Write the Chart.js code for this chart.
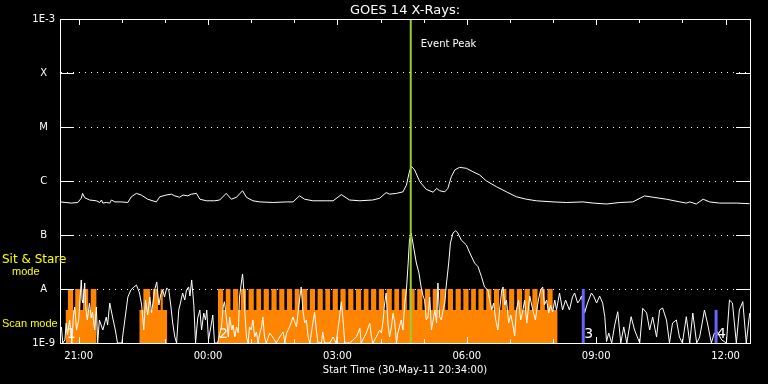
<!DOCTYPE html>
<html>
<head>
<meta charset="utf-8">
<script src="https://cdn.jsdelivr.net/npm/chart.js@4/dist/chart.umd.min.js"></script>
<style>
    html, body { margin: 0; padding: 0; background: #000; }
</style>
</head>
<body>
<canvas id="goes" width="768" height="384"></canvas>
<script>
// time is in hours from 00:00 on 31-May-11 (negative = 30-May)
const startHour = -3.4333; // 20:34
const endHour = 12.5667;

const hourTicks = [-3, -2, -1, 0, 1, 2, 3, 4, 5, 6, 7, 8, 9, 10, 11, 12];
const labelHours = [-3, 0, 3, 6, 9, 12];
const yTickValues = [1e-9, 1e-8, 1e-7, 1e-6, 1e-5, 1e-4, 1e-3];
const yTickLabels = ['1E-9', 'A', 'B', 'C', 'M', 'X', '1E-3'];

// GOES 1-8 A channel (W/m2)
const longTimes = [
    -3.43, -3.17, -3.02, -2.94, -2.91, -2.86, -2.75, -2.59, -2.51, -2.47,
    -2.44, -2.36, -2.28, -2.24, -2.16, -2.01, -1.86, -1.78, -1.66, -1.55,
    -1.40, -1.20, -1.12, -0.97, -0.85, -0.77, -0.66, -0.58, -0.47, -0.39,
    -0.27, -0.19, -0.04, 0.15, 0.27, 0.42, 0.54, 0.66, 0.80, 0.89,
    1.04, 1.20, 1.51, 1.82, 1.97, 2.12, 2.24, 2.43, 2.74, 2.90,
    3.09, 3.28, 3.52, 3.82, 3.98, 4.13, 4.21, 4.37, 4.52, 4.60,
    4.66, 4.71, 4.79, 4.91, 5.06, 5.22, 5.30, 5.37, 5.49, 5.56,
    5.64, 5.72, 5.83, 5.99, 6.14, 6.30, 6.45, 6.69, 6.92, 7.15,
    7.38, 7.61, 8.00, 8.31, 8.69, 8.93, 9.24, 9.55, 9.85, 10.12,
    10.32, 10.63, 10.94, 11.09, 11.17, 11.32, 11.48, 11.63, 11.86, 12.25,
    12.56
];
const longFlux = [
    4.1e-7, 3.9e-7, 4.0e-7, 4.8e-7, 5.9e-7, 4.9e-7, 4.45e-7, 4.3e-7, 4.0e-7, 4.45e-7,
    3.9e-7, 4.0e-7, 3.9e-7, 4.45e-7, 4.1e-7, 4.1e-7, 4.0e-7, 5.1e-7, 5.9e-7, 5.5e-7,
    4.6e-7, 4.1e-7, 5.1e-7, 5.5e-7, 5.7e-7, 5.3e-7, 5.0e-7, 5.5e-7, 5.3e-7, 5.7e-7,
    5.9e-7, 4.6e-7, 4.3e-7, 4.3e-7, 4.45e-7, 5.9e-7, 4.6e-7, 5.0e-7, 6.6e-7, 5.0e-7,
    4.3e-7, 4.1e-7, 4.0e-7, 4.1e-7, 4.1e-7, 5.3e-7, 4.6e-7, 4.3e-7, 4.3e-7, 4.3e-7,
    5.6e-7, 4.45e-7, 4.3e-7, 4.45e-7, 4.8e-7, 6.1e-7, 5.7e-7, 5.9e-7, 6.3e-7, 8.4e-7,
    1.39e-6, 1.89e-6, 1.6e-6, 9.7e-7, 7.0e-7, 6.2e-7, 7.3e-7, 6.6e-7, 6.3e-7, 7.3e-7,
    1.2e-6, 1.6e-6, 1.79e-6, 1.72e-6, 1.49e-6, 1.29e-6, 1.01e-6, 7.8e-7, 6.3e-7, 5.1e-7,
    4.6e-7, 4.3e-7, 4.1e-7, 4.0e-7, 4.1e-7, 3.9e-7, 3.75e-7, 4.0e-7, 4.1e-7, 5.3e-7,
    5.0e-7, 4.6e-7, 4.1e-7, 3.9e-7, 4.1e-7, 3.75e-7, 4.6e-7, 4.1e-7, 3.9e-7, 3.9e-7,
    3.8e-7
];

// GOES 0.5-4 A channel, in units of 1e-9 W/m2
const shortTimes = [
    -3.44, -3.40, -3.37, -3.32, -3.29, -3.26, -3.21, -3.16, -3.12, -3.09,
    -3.05, -3.00, -2.98, -2.94, -2.92, -2.90, -2.86, -2.84, -2.80, -2.77,
    -2.75, -2.71, -2.68, -2.63, -2.59, -2.56, -2.52, -2.44, -2.36, -2.33,
    -2.28, -2.21, -2.15, -2.10, -2.00, -1.93, -1.86, -1.79, -1.72, -1.66,
    -1.59, -1.54, -1.49, -1.45, -1.40, -1.35, -1.31, -1.24, -1.19, -1.14,
    -1.10, -1.05, -1.01, -0.96, -0.91, -0.86, -0.82, -0.77, -0.73, -0.68,
    -0.64, -0.59, -0.54, -0.50, -0.45, -0.42, -0.38, -0.33, -0.29, -0.24,
    -0.19, -0.15, -0.10, -0.06, -0.03, 0.01, 0.06, 0.11, 0.15, 0.22,
    0.31, 0.35, 0.38, 0.43, 0.47, 0.50, 0.55, 0.58, 0.62, 0.66,
    0.70, 0.73, 0.77, 0.80, 0.83, 0.85, 0.89, 0.93, 0.96, 1.00,
    1.04, 1.08, 1.12, 1.16, 1.20, 1.24, 1.27, 1.31, 1.35, 1.43,
    1.50, 1.58, 1.66, 1.74, 1.78, 1.82, 1.89, 1.97, 2.05, 2.12,
    2.16, 2.20, 2.24, 2.28, 2.32, 2.36, 2.43, 2.47, 2.51, 2.55,
    2.63, 2.66, 2.70, 2.82, 2.90, 2.97, 3.05, 3.09, 3.13, 3.17,
    3.28, 3.44, 3.52, 3.55, 3.67, 3.75, 3.79, 3.82, 3.90, 3.98,
    4.02, 4.06, 4.09, 4.13, 4.17, 4.21, 4.25, 4.29, 4.33, 4.37,
    4.40, 4.48, 4.52, 4.56, 4.60, 4.64, 4.67, 4.71, 4.75, 4.83,
    4.89, 4.94, 4.98, 5.02, 5.06, 5.10, 5.14, 5.18, 5.22, 5.26,
    5.30, 5.33, 5.37, 5.41, 5.45, 5.49, 5.52, 5.58, 5.62, 5.68,
    5.74, 5.79, 5.87, 5.99, 6.07, 6.18, 6.26, 6.34, 6.41, 6.49,
    6.53, 6.58, 6.62, 6.67, 6.72, 6.76, 6.81, 6.84, 6.88, 6.92,
    6.97, 7.02, 7.06, 7.11, 7.15, 7.20, 7.25, 7.29, 7.34, 7.39,
    7.46, 7.53, 7.59, 7.66, 7.71, 7.76, 7.80, 7.85, 7.90, 7.94,
    7.99, 8.04, 8.08, 8.15, 8.22, 8.29, 8.38, 8.45, 8.50, 8.57,
    8.62, 8.66, 8.73, 8.80, 8.89, 8.94, 9.01, 9.08, 9.15, 9.20,
    9.24, 9.29, 9.36, 9.43, 9.50, 9.57, 9.64, 9.71, 9.81, 9.89,
    10.01, 10.08, 10.17, 10.24, 10.31, 10.40, 10.47, 10.54, 10.63, 10.70,
    10.77, 10.86, 10.93, 11.00, 11.09, 11.17, 11.24, 11.33, 11.40, 11.47,
    11.51, 11.58, 11.67, 11.74, 11.81, 11.91, 12.02, 12.09, 12.16, 12.25,
    12.32, 12.40, 12.48, 12.56
];
const shortFluxNano = [
    1.74, 1.98, 1.0, 1.14, 2.34, 1.41, 2.67, 1.0, 3.3, 4.64,
    1.74, 2.67, 4.64, 14.7, 6.25, 5.5, 12.9, 5.05, 2.67, 4.08,
    5.5, 2.9, 3.75, 1.74, 4.64, 1.0, 2.67, 1.74, 3.03, 2.15,
    5.5, 2.9, 1.74, 1.0, 1.0, 2.67, 7.1, 9.58, 10.9, 11.8,
    8.43, 5.05, 1.74, 6.25, 3.3, 7.1, 3.59, 9.58, 13.5, 5.05,
    7.7, 9.58, 7.1, 10.4, 9.58, 4.64, 2.34, 1.29, 1.0, 4.08,
    5.5, 8.43, 6.25, 9.58, 10.9, 7.4, 14.7, 5.05, 1.0, 2.9,
    4.08, 1.74, 3.59, 2.67, 4.08, 1.14, 1.9, 3.3, 1.0, 1.0,
    1.98, 4.64, 5.8, 2.67, 1.29, 3.03, 1.74, 2.15, 1.29, 1.98,
    1.53, 7.1, 12.9, 19.0, 9.58, 4.08, 1.29, 1.0, 1.98, 1.74,
    2.67, 1.29, 1.6, 1.0, 1.53, 1.98, 3.03, 1.29, 1.0, 1.53,
    1.29, 1.0, 1.29, 1.6, 1.0, 1.53, 1.98, 3.03, 1.98, 6.25,
    10.9, 4.08, 2.34, 2.67, 1.29, 1.0, 2.34, 3.75, 1.74, 1.0,
    1.0, 1.6, 1.0, 1.0, 1.29, 1.0, 3.03, 5.8, 2.67, 1.0,
    1.0, 1.29, 1.87, 1.0, 1.53, 2.32, 1.29, 1.0, 1.29, 1.74,
    1.53, 2.67, 5.05, 8.43, 2.34, 1.29, 1.98, 3.55, 2.34, 1.0,
    1.53, 2.67, 1.74, 5.5, 9.58, 30.3, 80.8, 109, 71.0, 30.3,
    19.8, 10.9, 7.7, 6.25, 2.67, 3.03, 7.1, 1.74, 2.67, 4.08,
    2.34, 12.9, 3.03, 2.67, 4.08, 5.5, 10.9, 30.3, 71.0, 109,
    120, 109, 80.8, 65.3, 46.4, 30.3, 25.9, 16.9, 10.9, 9.58,
    6.25, 4.08, 5.5, 2.67, 1.74, 4.08, 9.58, 10.9, 5.05, 6.25,
    2.34, 3.3, 2.34, 1.35, 4.08, 6.25, 2.67, 3.59, 6.25, 2.34,
    7.4, 4.08, 2.67, 6.25, 9.58, 10.9, 5.05, 6.25, 3.59, 5.05,
    3.75, 6.25, 4.08, 8.43, 4.08, 6.25, 4.08, 7.1, 8.43, 5.5,
    6.25, 7.4, 3.59, 5.5, 8.43, 7.4, 5.5, 7.4, 5.5, 3.07,
    1.06, 1.53, 1.0, 2.15, 3.8, 1.0, 1.98, 1.0, 3.07, 1.74,
    1.0, 4.39, 3.59, 1.74, 3.03, 1.29, 4.08, 4.45, 2.67, 1.0,
    2.34, 2.67, 1.29, 1.0, 3.07, 1.0, 3.59, 1.0, 1.29, 2.67,
    4.08, 2.34, 1.0, 1.53, 1.6, 1.14, 1.0, 6.25, 5.5, 1.0,
    4.08, 5.82, 1.0, 3.59
];

// observing mode: 0 none, 1 scan, 2 sit & stare (value holds until next time)
const modeTimes = [
    -3.30, -3.25, -3.13, -3.08, -2.96, -2.90, -2.78, -2.72, -2.59,
    -1.59, -1.50, -1.34, -1.28, -1.16, -1.10, -1.05, -0.95,
    0.23,
    0.35, 0.41, 0.52, 0.58, 0.70, 0.76, 0.88, 0.94, 1.06, 1.12,
    1.23, 1.29, 1.41, 1.47, 1.59, 1.65, 1.77, 1.83, 1.95, 2.01,
    2.12, 2.18, 2.30, 2.36, 2.48, 2.54, 2.66, 2.72, 2.83, 2.89,
    3.01, 3.07, 3.19, 3.25, 3.37, 3.43, 3.55, 3.61, 3.72, 3.78,
    3.90, 3.96, 4.08, 4.14, 4.26, 4.32, 4.43, 4.49, 4.61, 4.67,
    4.79, 4.85, 4.97, 5.03, 5.15, 5.21, 5.32, 5.38, 5.50, 5.56,
    5.68, 5.74, 5.86, 5.92, 6.04, 6.10, 6.21, 6.27, 6.39, 6.45,
    6.57, 6.63, 6.75, 6.81, 6.92, 6.98, 7.10, 7.16, 7.28, 7.34,
    7.46, 7.52, 7.64, 7.70, 7.81, 7.87,
    7.99, 8.10
];
const modeCodes = [
    1, 2, 1, 2, 1, 2, 1, 2, 0,
    1, 2, 1, 2, 1, 2, 1, 0,
    2,
    1, 2, 1, 2, 1, 2, 1, 2, 1, 2,
    1, 2, 1, 2, 1, 2, 1, 2, 1, 2,
    1, 2, 1, 2, 1, 2, 1, 2, 1, 2,
    1, 2, 1, 2, 1, 2, 1, 2, 1, 2,
    1, 2, 1, 2, 1, 2, 1, 2, 1, 2,
    1, 2, 1, 2, 1, 2, 1, 2, 1, 2,
    1, 2, 1, 2, 1, 2, 1, 2, 1, 2,
    1, 2, 1, 2, 1, 2, 1, 2, 1, 2,
    1, 2, 1, 2, 1, 2,
    1, 0
];

const eventPeakHour = 4.70;
const obsNumbers = ['1', '2', '3', '4'];
const obsHours = [-3.30, 0.23, 8.70, 11.78];
const blueHours = [8.70, 11.78];
const blueTops = [1e-8, 4.1e-9];

const modeHeight = [1e-10, 4.1e-9, 1e-8];
const FONT = 'DejaVu Sans';

const hourLabel = (h) => {
    const hh = ((h % 24) + 24) % 24;
    return String(hh).padStart(2, '0') + ':00';
}

let modePoints = [{x: startHour, y: modeHeight[0]}];
for (let i = 0; i < modeTimes.length; i++) {
    modePoints.push({x: modeTimes[i], y: modeHeight[modeCodes[i]]});
}
modePoints.push({x: endHour, y: modeHeight[0]});

const lineStyle = {pointRadius: 0, tension: 0, fill: false};

const datasets = [
    {
        label: 'mode', data: modePoints, stepped: true, fill: 'start',
        backgroundColor: '#ff8500', borderWidth: 0, pointRadius: 0, order: 3
    },
    {
        ...lineStyle, label: '0.5-4 A',
        data: shortTimes.map((t, i) => ({x: t, y: shortFluxNano[i] * 1e-9})),
        borderColor: '#ffffff', borderWidth: 1, order: 2
    },
    {
        ...lineStyle, label: '1-8 A',
        data: longTimes.map((t, i) => ({x: t, y: longFlux[i]})),
        borderColor: '#ffffff', borderWidth: 1, order: 2
    },
    {
        ...lineStyle, label: 'Event Peak',
        data: [{x: eventPeakHour, y: 1e-9}, {x: eventPeakHour, y: 1e-3}],
        borderColor: '#9acd32', borderWidth: 2, order: 0
    }
];
for (let i = 0; i < blueHours.length; i++) {
    datasets.push({
        ...lineStyle, label: 'obs' + (i + 3),
        data: [{x: blueHours[i], y: 1e-9}, {x: blueHours[i], y: blueTops[i]}],
        borderColor: '#6464ff', borderWidth: 3, order: 1
    });
}

const decorations = {
    id: 'decorations',
    afterDraw(chart) {
        const ctx = chart.ctx;
        const {left, right, top, bottom} = chart.chartArea;
        const xs = chart.scales.x, ys = chart.scales.y;
        ctx.save();
        ctx.strokeStyle = '#ffffff';
        ctx.lineWidth = 1;
        ctx.beginPath();
        ctx.moveTo(left, top + 0.5); ctx.lineTo(right + 0.5, top + 0.5);
        ctx.moveTo(right + 0.5, top); ctx.lineTo(right + 0.5, bottom + 0.5);
        ctx.moveTo(left, bottom + 0.5); ctx.lineTo(right + 0.5, bottom + 0.5);
        // solid stubs at each class level
        for (let i = 1; i < yTickValues.length - 1; i++) {
            const y = Math.round(ys.getPixelForValue(yTickValues[i])) + 0.5;
            ctx.moveTo(left, y); ctx.lineTo(left + 14, y);
            ctx.moveTo(right - 14, y); ctx.lineTo(right, y);
        }
        // inward time ticks top and bottom
        for (const h of hourTicks) {
            const x = Math.round(xs.getPixelForValue(h)) + 0.5;
            const len = labelHours.includes(h) ? 6 : 4;
            ctx.moveTo(x, top); ctx.lineTo(x, top + len);
            ctx.moveTo(x, bottom); ctx.lineTo(x, bottom - len);
        }
        ctx.stroke();

        ctx.fillStyle = '#ffffff';
        ctx.textBaseline = 'alphabetic';
        ctx.textAlign = 'center';
        ctx.font = '13px ' + FONT;
        ctx.fillText('GOES 14 X-Rays:', (left + right) / 2, 14);
        ctx.font = '10px ' + FONT;
        ctx.fillText('Start Time (30-May-11 20:34:00)', (left + right) / 2, 373);

        ctx.textAlign = 'left';
        ctx.fillText('Event Peak', xs.getPixelForValue(eventPeakHour) + 10, 47);

        ctx.font = '14px ' + FONT;
        for (let i = 0; i < obsNumbers.length; i++) {
            ctx.fillText(obsNumbers[i], xs.getPixelForValue(obsHours[i]) + 1, 338);
        }

        ctx.fillStyle = '#ffff00';
        ctx.font = '12px ' + FONT;
        ctx.fillText('Sit & Stare', 2, 263);
        ctx.font = '11px "Liberation Sans"';
        ctx.fillText('mode', 12, 275);
        ctx.fillText('Scan mode', 2, 327);
        ctx.restore();
    }
};

const chart = new Chart(document.getElementById('goes'), {
    type: 'line',
    data: {datasets: datasets},
    options: {
        responsive: false,
        devicePixelRatio: 1,
        animation: false,
        events: [],
        layout: {padding: {top: 19, right: 18, left: 0, bottom: 0}},
        plugins: {legend: {display: false}, tooltip: {enabled: false}},
        scales: {
            x: {
                type: 'linear', min: startHour, max: endHour,
                afterBuildTicks: (s) => { s.ticks = labelHours.map(v => ({value: v})); },
                afterFit: (s) => { s.height = 41; },
                grid: {display: false, drawTicks: false},
                border: {color: '#ffffff', width: 1},
                ticks: {
                    color: '#ffffff', font: {family: FONT, size: 10}, padding: 7,
                    maxRotation: 0, autoSkip: false, callback: (v) => hourLabel(v)
                }
            },
            y: {
                type: 'logarithmic', min: 1e-9, max: 1e-3,
                afterBuildTicks: (s) => { s.ticks = yTickValues.map(v => ({value: v})); },
                afterFit: (s) => { s.width = 60; },
                grid: {color: '#ffffff', lineWidth: 1, drawTicks: false},
                border: {color: '#ffffff', width: 1, dash: [1, 5]},
                ticks: {
                    color: '#ffffff', font: {family: FONT, size: 10}, padding: 5,
                    crossAlign: 'center', autoSkip: false,
                    callback: (v, i) => yTickLabels[i]
                }
            }
        }
    },
    plugins: [decorations]
});
</script>
</body>
</html>
